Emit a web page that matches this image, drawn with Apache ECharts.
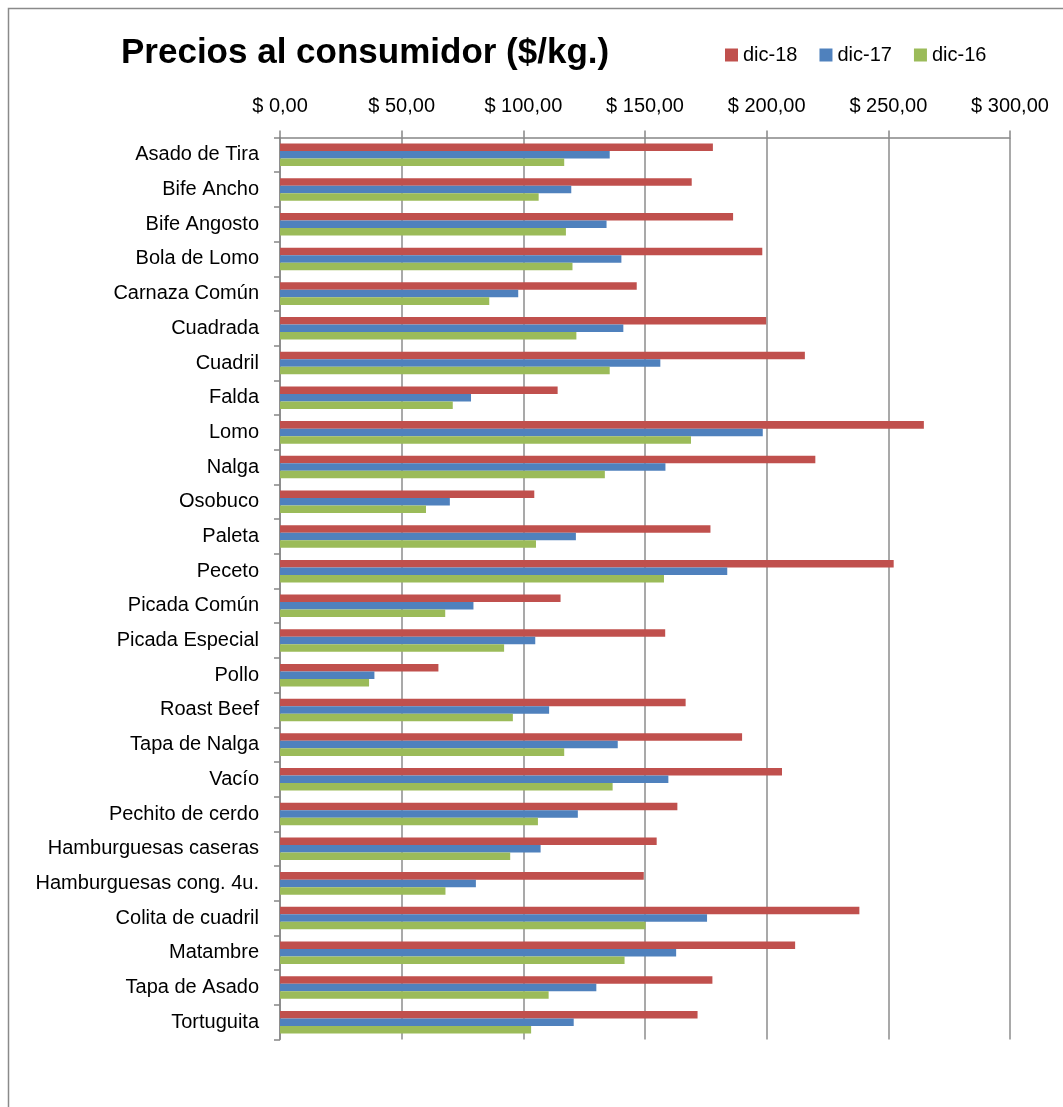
<!DOCTYPE html>
<html>
<head>
<meta charset="utf-8">
<script src="https://cdn.jsdelivr.net/npm/echarts@6/dist/echarts.min.js"></script>
<style>
html,body{margin:0;padding:0;background:#fff;}
#main{width:1063px;height:1107px;}
</style>
</head>
<body>
<div id="main"></div>
<script>
const categories = ['Asado de Tira','Bife Ancho','Bife Angosto','Bola de Lomo','Carnaza Común','Cuadrada','Cuadril','Falda','Lomo','Nalga','Osobuco','Paleta','Peceto','Picada Común','Picada Especial','Pollo','Roast Beef','Tapa de Nalga','Vacío','Pechito de cerdo','Hamburguesas caseras','Hamburguesas cong. 4u.','Colita de cuadril','Matambre','Tapa de Asado','Tortuguita'];
const dic18 = [177.9,169.2,186.2,198.2,146.6,199.8,215.7,114.1,264.6,220.0,104.5,176.9,252.2,115.3,158.3,65.1,166.7,189.9,206.3,163.3,154.8,149.5,238.1,211.7,177.7,171.6];
const dic17 = [135.5,119.7,134.2,140.3,97.9,141.1,156.3,78.5,198.4,158.4,69.8,121.6,183.8,79.5,104.9,38.8,110.6,138.8,159.6,122.4,107.1,80.5,175.5,162.8,130.0,120.7];
const dic16 = [116.8,106.3,117.5,120.2,86.0,121.8,135.5,71.0,168.9,133.5,60.0,105.2,157.8,67.9,92.1,36.6,95.7,116.8,136.7,106.0,94.6,68.0,150.2,141.6,110.4,103.2];
const seriesNames = ['dic-18','dic-17','dic-16'];
const xTicks = {min: 0, max: 300, interval: 50};

const FONT = '"Liberation Sans Narrow", "Arial Narrow", "Liberation Sans", sans-serif';
const colors = ['#C0504D','#4F81BD','#9BBB59'];
const chart = echarts.init(document.getElementById('main'));
const fmt = v => '$ ' + v.toFixed(2).replace('.', ',');

chart.setOption({
  animation: false,
  backgroundColor: '#ffffff',
  color: colors,
  title: {
    text: 'Precios al consumidor ($/kg.)',
    left: 116, top: 31,
    textStyle: {fontFamily: FONT, fontWeight: 'bold', fontSize: 35, color: '#000'}
  },
  legend: {
    data: seriesNames,
    left: 720, top: 40,
    icon: 'rect', itemWidth: 13, itemHeight: 13, itemGap: 22,
    textStyle: {fontFamily: FONT, fontSize: 20, color: '#000'}
  },
  graphic: [{
    type: 'rect', silent: true, z: -1,
    shape: {x: 8.5, y: 8.5, width: 1100, height: 1200},
    style: {fill: 'none', stroke: '#8a8a8a', lineWidth: 1.5}
  }],
  grid: {left: 280, right: 53, top: 137.5, bottom: 67.5, containLabel: false},
  xAxis: {
    type: 'value', position: 'top',
    min: xTicks.min, max: xTicks.max, interval: xTicks.interval,
    axisLine: {show: true, lineStyle: {color: '#868686', width: 1.5}},
    axisTick: {show: true, inside: false, length: 7, lineStyle: {color: '#868686', width: 1.5}},
    axisLabel: {formatter: fmt, margin: 21, fontFamily: FONT, fontSize: 20, color: '#000'},
    splitLine: {show: true, lineStyle: {color: '#8c8c8c', width: 1.5}}
  },
  yAxis: {
    type: 'category', inverse: true, data: categories,
    axisLine: {show: true, lineStyle: {color: '#868686', width: 1.5}},
    axisTick: {show: true, inside: false, length: 6, lineStyle: {color: '#868686', width: 1.5}},
    axisLabel: {margin: 21, fontFamily: FONT, fontSize: 20, color: '#000', interval: 0},
    splitLine: {show: false}
  },
  series: [
    {name: seriesNames[0], type: 'bar', data: dic18, barGap: '0%', barCategoryGap: '35%'},
    {name: seriesNames[1], type: 'bar', data: dic17, barGap: '0%', barCategoryGap: '35%'},
    {name: seriesNames[2], type: 'bar', data: dic16, barGap: '0%', barCategoryGap: '35%'}
  ]
});
</script>
</body>
</html>
